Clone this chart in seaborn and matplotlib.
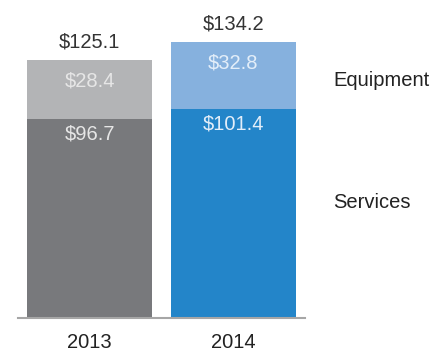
import matplotlib
matplotlib.use("Agg")
import matplotlib.pyplot as plt
import seaborn as sns
import pandas as pd

years = ["2013", "2014"]
services = [96.7, 101.4]
equipment = [28.4, 32.8]
totals = [125.1, 134.2]

services_colors = ["#78797c", "#2385c9"]
equipment_colors = ["#b3b4b6", "#86b1de"]
inner_text_colors = ["#e6e6e6", "#e3eef9"]

sns.set_theme(style="white")
plt.rcParams["font.family"] = ["Liberation Sans", "DejaVu Sans"]

df = pd.DataFrame({"year": years, "services": services,
                   "equipment": equipment, "total": totals})

W, H = 437, 357
fig = plt.figure(figsize=(W / 100, H / 100), dpi=100)
ax = fig.add_axes([18 / W, 39 / H, 287 / W, 309 / H])

# total height drawn in the equipment colour, services on top of it from zero
sns.barplot(data=df, x="year", y="total", hue="year",
            palette=equipment_colors, width=0.874, legend=False,
            saturation=1, linewidth=0, edgecolor="none", ax=ax)
sns.barplot(data=df, x="year", y="services", hue="year",
            palette=services_colors, width=0.874, legend=False,
            saturation=1, linewidth=0, edgecolor="none", ax=ax)

ax.set_xlim(-0.5, 1.5)
ax.set_ylim(0, 150)

fs = 14.5
for i in range(len(years)):
    ax.annotate(f"${totals[i]:.1f}", (i, totals[i]), xytext=(0, 18),
                textcoords="offset pixels", ha="center", va="center",
                fontsize=fs, color="#333333")
    ax.annotate(f"${equipment[i]:.1f}", (i, totals[i]), xytext=(0, -21),
                textcoords="offset pixels", ha="center", va="center",
                fontsize=fs, color=inner_text_colors[i])
    ax.annotate(f"${services[i]:.1f}", (i, services[i]), xytext=(0, -15),
                textcoords="offset pixels", ha="center", va="center",
                fontsize=fs, color=inner_text_colors[i])

for s in ["top", "right", "left"]:
    ax.spines[s].set_visible(False)
ax.spines["bottom"].set_color("#a6a6a6")
ax.spines["bottom"].set_linewidth(1.5)
ax.set_yticks([])
ax.set_xlabel("")
ax.set_ylabel("")
ax.tick_params(axis="x", length=0, pad=11, labelsize=fs, labelcolor="#222222")

fig.text(333 / W, 1 - 80 / H, "Equipment", ha="left", va="center",
         fontsize=fs, color="#222222")
fig.text(333 / W, 1 - 203 / H, "Services", ha="left", va="center",
         fontsize=fs, color="#222222")

fig.savefig("out.png", dpi=100)
